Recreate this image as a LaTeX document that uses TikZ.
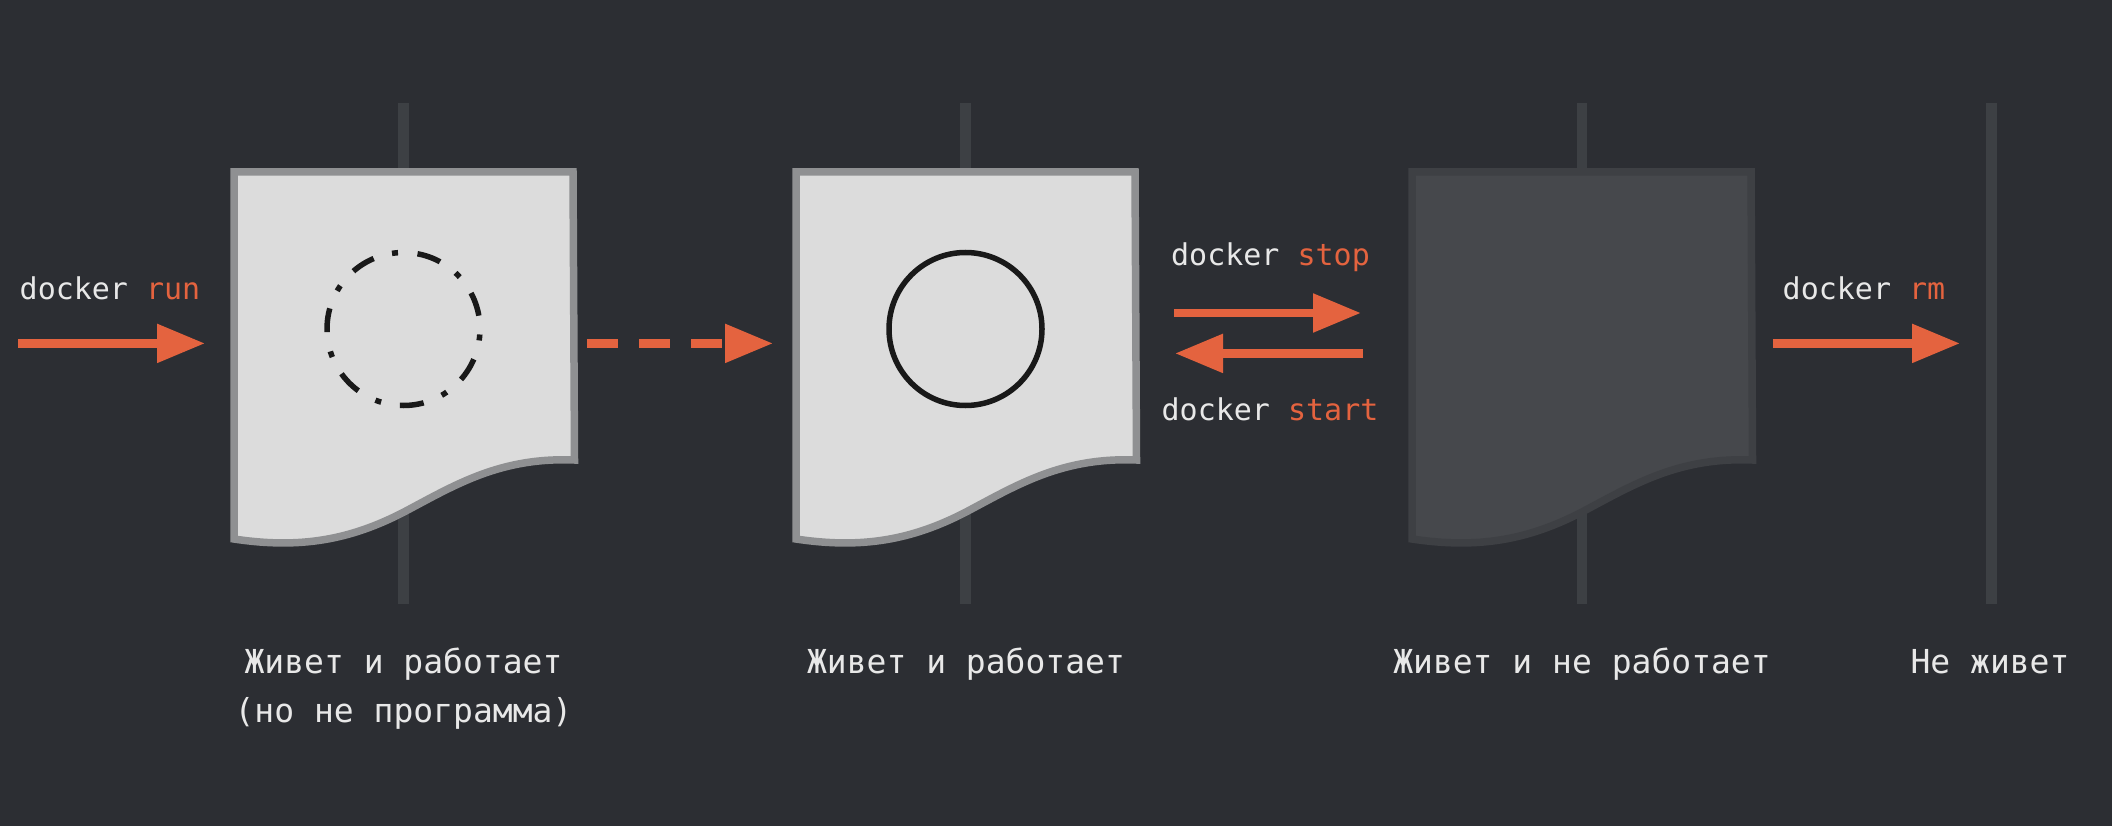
\documentclass[tikz,border=0pt]{standalone}
\usepackage{fontspec}
\setmonofont{DejaVu Sans Mono}
\usetikzlibrary{positioning,arrows.meta}
\definecolor{slate}{HTML}{2C2E33}
\definecolor{lanegray}{HTML}{3D4044}
\definecolor{sheetfill}{HTML}{DCDCDC}
\definecolor{sheetedge}{HTML}{8F9092}
\definecolor{stopfill}{HTML}{46484C}
\definecolor{stopedge}{HTML}{3E4044}
\definecolor{flowred}{HTML}{E4633F}
\definecolor{wordwhite}{HTML}{E8E8E8}
\newcommand{\sheetoutline}[2]{\begin{scope}[shift={(#1.center)}]
        \draw[#2] (-169.5,-185) -- (169.5,-185) -- (171,103) .. controls (96.5,100) and (51.5,128) .. (0.5,155) .. controls (-53.5,183) and (-103.5,192) .. (-169.5,182) -- cycle;
    \end{scope}}
\newcommand{\cmdword}[1]{\textcolor{flowred}{#1}}

\begin{document}
\begin{tikzpicture}[x=1pt,y=-1pt,
        sheet/.style={inner sep=0pt,outer sep=0pt,minimum width=347pt,minimum height=378pt},
        live/.style={fill=sheetfill,draw=sheetedge,line width=7.5pt},
        dead/.style={fill=stopfill,draw=stopedge,line width=7.5pt},
        lane/.style={draw=lanegray,line width=11pt},
        flow/.style={draw=flowred,line width=8.5pt,-{Triangle[length=48pt,width=37pt]}},
        proc/.style={circle,draw=black!90,line width=5.5pt,inner sep=0pt,outer sep=0pt,minimum size=153pt},
        cmd/.style={anchor=base,inner sep=0pt,text=wordwhite,font=\ttfamily\fontsize{30}{36}\selectfont},
        state/.style={anchor=base,inner sep=0pt,align=center,text=wordwhite,font=\ttfamily\fontsize{33}{49}\selectfont}]
        \fill[slate] (0,0) rectangle (2112,826);
        \coordinate (lanetop) at (0,103);
        \coordinate (lanebottom) at (0,604);
        \coordinate (flowlevel) at (0,343.4);
        \coordinate (stoplevel) at (0,313);
        \coordinate (startlevel) at (0,353.4);
        \coordinate (runin) at (18,343.4);
        \coordinate (gone) at (1991,343.4);
        \node[sheet] (sheetone) at (403.5,357) {};
        \node[sheet, right=215pt of sheetone] (sheettwo) {};
        \node[sheet, right=269pt of sheettwo] (sheetthree) {};
        \draw[lane] (sheetone |- lanetop) -- (sheetone |- lanebottom);
        \draw[lane] (sheettwo |- lanetop) -- (sheettwo |- lanebottom);
        \draw[lane, line width=10pt] (sheetthree |- lanetop) -- (sheetthree |- lanebottom);
        \draw[lane] (gone |- lanetop) -- (gone |- lanebottom);
        \sheetoutline{sheetone}{live}
        \sheetoutline{sheettwo}{live}
        \sheetoutline{sheetthree}{dead}
        \node[proc, dash pattern=on 24pt off 19.6pt on 6pt off 19.1pt, dash phase=55.3pt] (starting) at ([yshift=28pt]sheetone.center) {};
        \node[proc] (running) at ([yshift=28pt]sheettwo.center) {};
        \draw[flow, shorten >=25pt] (runin) -- (runin -| sheetone.west);
        \draw[flow, dash pattern=on 31pt off 21pt, shorten <=10pt, shorten >=19pt] (flowlevel -| sheetone.east) -- (flowlevel -| sheettwo.west);
        \draw[flow, shorten <=35pt, shorten >=47pt] (stoplevel -| sheettwo.east) -- (stoplevel -| sheetthree.west);
        \draw[flow, shorten <=45pt, shorten >=36pt] (startlevel -| sheetthree.west) -- (startlevel -| sheettwo.east);
        \draw[flow, shorten <=18pt, shorten >=31pt] (flowlevel -| sheetthree.east) -- (gone);
        \node[cmd] (runlabel) at (110,299.5) {docker \cmdword{run}};
        \node[cmd] (stoplabel) at (1270.5,265.5) {docker \cmdword{stop}};
        \node[cmd] (startlabel) at (1270,420.5) {docker \cmdword{start}};
        \node[cmd] (rmlabel) at (1864,299.5) {docker \cmdword{rm}};
        \node[state] (onelabel) at (403.5,722) {Живет и работает\\(но не программа)};
        \node[state] (twolabel) at (966,673) {Живет и работает};
        \node[state] (threelabel) at (1582,673) {Живет и не работает};
        \node[state] (gonelabel) at (1990,673) {Не живет};
        \end{tikzpicture}
\end{document}
